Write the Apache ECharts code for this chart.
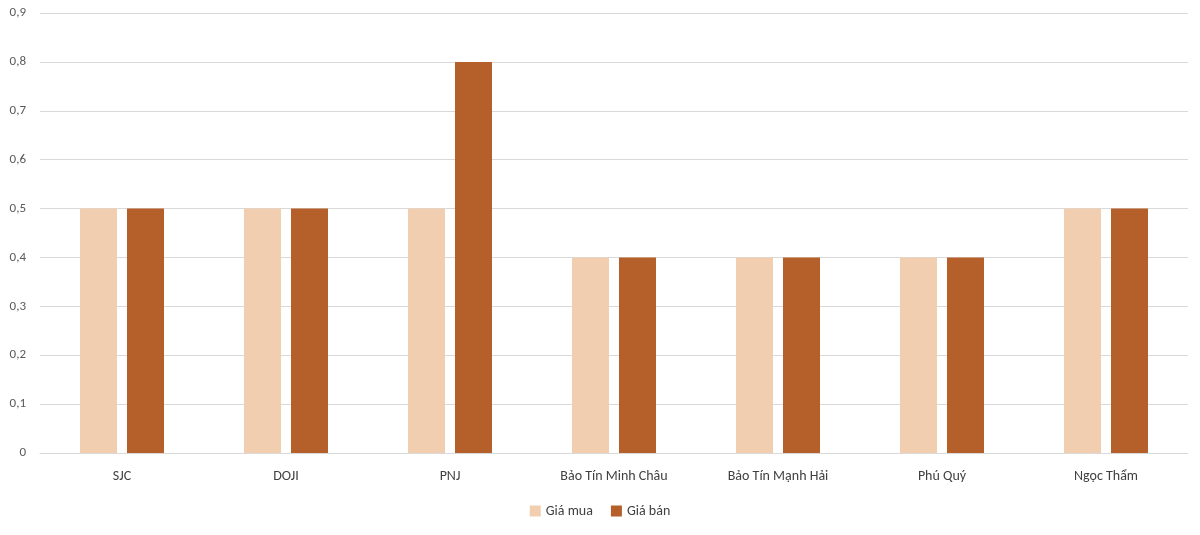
<!DOCTYPE html>
<html><head><meta charset="utf-8">
<script src="https://cdn.jsdelivr.net/npm/echarts@6/dist/echarts.min.js"></script>
<style>html,body{margin:0;padding:0;background:#fff}#c{width:1200px;height:535px}</style>
</head><body><div id="c"></div>
<script>
const categories = ["SJC","DOJI","PNJ","Bảo Tín Minh Châu","Bảo Tín Mạnh Hải","Phú Quý","Ngọc Thẩm"];
const giaMua = [0.5,0.5,0.5,0.4,0.4,0.4,0.5];
const giaBan = [0.5,0.5,0.8,0.4,0.4,0.4,0.5];
const chart = echarts.init(document.getElementById('c'));
const font = "Calibri, Carlito, 'Liberation Sans', sans-serif";
chart.setOption({
  animation:false,
  grid:{left:40,right:12,top:13,bottom:82},
  legend:{bottom:12,itemWidth:11,itemHeight:11,itemGap:18,icon:'rect',
    textStyle:{fontFamily:font,fontSize:14,color:'#404040'},
    data:['Giá mua','Giá bán']},
  xAxis:{type:'category',data:categories,
    axisLine:{lineStyle:{color:'#d9d9d9'}},axisTick:{show:false},
    axisLabel:{fontFamily:font,fontSize:14,color:'#404040',margin:16}},
  yAxis:{type:'value',min:0,max:0.9,interval:0.1,
    axisLabel:{fontFamily:font,fontSize:13,color:'#595959',margin:14,
      formatter:v=>v===0?'0':v.toFixed(1).replace('.',',')},
    splitLine:{lineStyle:{color:'#d9d9d9'}}},
  series:[
    {name:'Giá mua',type:'bar',data:giaMua,barWidth:37,barGap:'27%',itemStyle:{color:'#F2CEB0'}},
    {name:'Giá bán',type:'bar',data:giaBan,barWidth:37,itemStyle:{color:'#B5602A'}}
  ]
});
</script></body></html>
